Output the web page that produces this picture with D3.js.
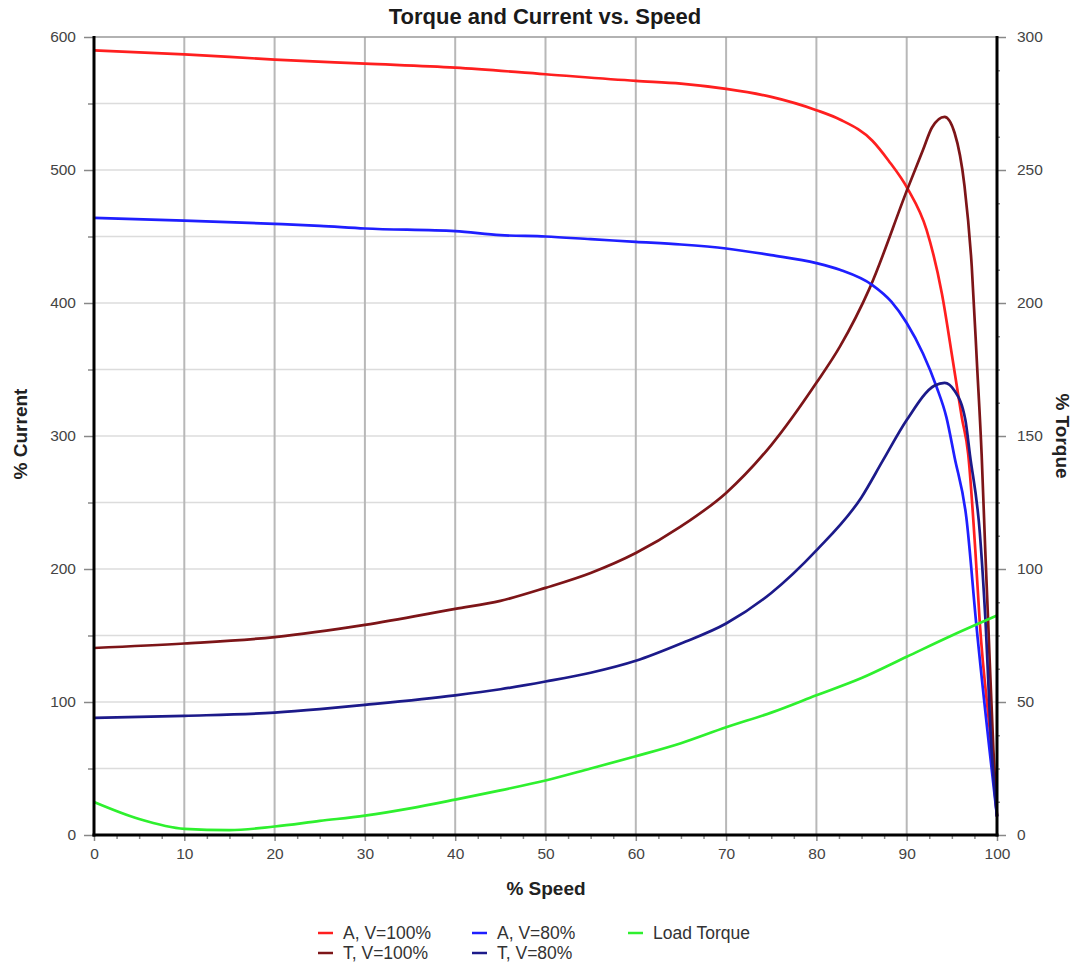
<!DOCTYPE html>
<html>
<head>
<meta charset="utf-8">
<script src="https://cdn.jsdelivr.net/npm/d3@7/dist/d3.min.js"></script>
<style>
  body { margin: 0; background: #fff; }
  svg { font-family: "Liberation Sans", Arial, sans-serif; }
  .tick-label { fill: #444; font-size: 15.5px; }
  .axis-title { font-weight: bold; font-size: 19px; fill: #222; }
  .legend-label { fill: #333; font-size: 17.5px; }
</style>
</head>
<body>
<div id="chart"></div>
<script>

// Current at 100% voltage (left axis, % current)
var ampsFullSpeed = [0, 10, 20, 30, 40, 50, 60, 65, 70, 75, 80, 82.6, 86.2, 88, 90.1, 92.2, 93.9, 95.1, 96.1, 96.8, 97.6, 98.1, 99.4, 100];
var ampsFull      = [590, 587, 583, 580, 577, 572, 567, 565, 561, 555, 545, 538, 522, 507, 486, 455, 407, 357, 314, 287, 214, 159, 64, 14];

// Current at 80% voltage
var ampsLowSpeed = [0, 10, 20, 25, 30, 40, 45, 50, 55, 60, 65, 70, 75, 80, 82.6, 86.2, 88.3, 90, 91.8, 93.3, 94.4, 95.3, 96.6, 97.7, 100];
var ampsLow      = [464, 462, 459.5, 458, 456, 454, 451, 450, 448, 446, 444, 441, 436, 430, 425, 413.5, 401, 385, 362, 337, 314, 284, 239, 159, 14];

// Torque at 100% voltage (right axis, % torque)
var torqueFullSpeed = [0, 10, 20, 30, 40, 45, 50, 55, 60, 65, 70, 75, 80, 82.6, 85.9, 90.1, 91.8, 92.8, 94.2, 95.3, 96.4, 97.2, 97.8, 98.3, 98.7, 99, 99.6, 100];
var torqueFull      = [70.3, 72, 74.4, 79, 85, 88, 92.9, 98.5, 106, 116, 128.6, 146.6, 170, 183.6, 205.6, 243, 257.5, 266, 270, 264, 244, 214, 176, 143, 107, 82, 32, 7];

// Torque at 80% voltage
var torqueLowSpeed = [0, 10, 20, 25, 30, 40, 45, 50, 55, 60, 65, 70, 75, 80, 85, 87.4, 90, 93.1, 94.2, 95.3, 96.5, 97, 98.1, 98.7, 99.4, 100];
var torqueLow      = [44, 44.8, 46, 47.3, 48.9, 52.5, 54.8, 57.7, 61, 65.5, 72, 79.5, 91, 107, 127, 141, 156, 169, 170, 167, 156, 143, 113.5, 82, 32, 7];

// Load torque
var loadSpeed  = [0, 5, 10, 15, 20, 25, 30, 35, 40, 45, 50, 55, 60, 65, 70, 75, 80, 85, 90, 95, 100];
var loadTorque = [12.4, 6, 2.3, 1.8, 3.2, 5.3, 7.3, 10, 13.3, 16.8, 20.5, 25, 29.6, 34.5, 40.5, 46, 52.5, 59, 67, 75, 82.5];

var speedTicks   = [0, 10, 20, 30, 40, 50, 60, 70, 80, 90, 100];
var currentTicks = [0, 100, 200, 300, 400, 500, 600];
var torqueTicks  = [0, 50, 100, 150, 200, 250, 300];

var series = [
  { name: 'A, V=100%',  axis: 'current', speed: ampsFullSpeed,   values: ampsFull,   color: '#ff1f1f' },
  { name: 'T, V=100%',  axis: 'torque',  speed: torqueFullSpeed, values: torqueFull, color: '#7d1518' },
  { name: 'A, V=80%',   axis: 'current', speed: ampsLowSpeed,    values: ampsLow,    color: '#1f1fff' },
  { name: 'T, V=80%',   axis: 'torque',  speed: torqueLowSpeed,  values: torqueLow,  color: '#1c1a8a' },
  { name: 'Load Torque', axis: 'torque', speed: loadSpeed,       values: loadTorque, color: '#2ef02e' }
];

(function(){

  var width = 1078, height = 965;
  var plotLeft = 94, plotRight = 997, plotTop = 37, plotBottom = 835;

  var svg = d3.select('#chart')
    .append('svg')
      .attr('width', width)
      .attr('height', height);

  var x = d3.scaleLinear().domain([0, 100]).range([plotLeft, plotRight]);
  var yCurrent = d3.scaleLinear().domain([0, 600]).range([plotBottom, plotTop]);
  var yTorque = d3.scaleLinear().domain([0, 300]).range([plotBottom, plotTop]);

  // Horizontal grid (every 50 % current)
  svg.append('g')
    .selectAll('line')
    .data(d3.range(50, 600, 50))
    .enter()
      .append('line')
        .attr('x1', plotLeft).attr('x2', plotRight)
        .attr('y1', function(d){ return yCurrent(d); })
        .attr('y2', function(d){ return yCurrent(d); })
        .attr('stroke', '#dcdcdc')
        .attr('stroke-width', 1.5);

  // Vertical grid (every 10 % speed)
  svg.append('g')
    .selectAll('line')
    .data(speedTicks.slice(1, -1))
    .enter()
      .append('line')
        .attr('x1', function(d){ return x(d); })
        .attr('x2', function(d){ return x(d); })
        .attr('y1', plotTop).attr('y2', plotBottom)
        .attr('stroke', '#b8b8b8')
        .attr('stroke-width', 2);

  // Top border
  svg.append('line')
    .attr('x1', plotLeft).attr('x2', plotRight)
    .attr('y1', plotTop).attr('y2', plotTop)
    .attr('stroke', '#999')
    .attr('stroke-width', 1.5);

  // Curves
  var line = function(s){
    var yScale = s.axis === 'current' ? yCurrent : yTorque;
    return d3.line()
      .x(function(d){ return x(d[0]); })
      .y(function(d){ return yScale(d[1]); })
      .curve(d3.curveMonotoneX)(d3.zip(s.speed, s.values));
  };

  svg.append('g')
    .selectAll('path')
    .data(series)
    .enter()
      .append('path')
        .attr('d', line)
        .attr('fill', 'none')
        .attr('stroke', function(d){ return d.color; })
        .attr('stroke-width', 2.7)
        .attr('stroke-linejoin', 'round');

  // Axes
  var xAxis = svg.append('g')
    .attr('transform', 'translate(0,' + plotBottom + ')')
    .call(d3.axisBottom(x).tickValues(speedTicks).tickSize(6).tickPadding(7));

  var xMinor = svg.append('g')
    .attr('transform', 'translate(0,' + plotBottom + ')')
    .call(d3.axisBottom(x).tickValues(d3.range(2.5, 100, 2.5).filter(function(d){ return d % 10 !== 0; })).tickSize(4).tickFormat(''));

  var yLeft = svg.append('g')
    .attr('transform', 'translate(' + plotLeft + ',0)')
    .call(d3.axisLeft(yCurrent).tickValues(currentTicks).tickSize(10).tickPadding(8));

  var yLeftMinor = svg.append('g')
    .attr('transform', 'translate(' + plotLeft + ',0)')
    .call(d3.axisLeft(yCurrent).tickValues(d3.range(50, 600, 100)).tickSize(6).tickFormat(''));

  var yRight = svg.append('g')
    .attr('transform', 'translate(' + plotRight + ',0)')
    .call(d3.axisRight(yTorque).tickValues(torqueTicks).tickSize(9).tickPadding(11));

  var yRightMinor = svg.append('g')
    .attr('transform', 'translate(' + plotRight + ',0)')
    .call(d3.axisRight(yTorque).tickValues(d3.range(12.5, 300, 12.5).filter(function(d){ return d % 50 !== 0; })).tickSize(3).tickFormat(''));

  [xAxis, xMinor, yLeft, yLeftMinor, yRight, yRightMinor].forEach(function(g){
    g.select('.domain').remove();
    g.selectAll('.tick line').attr('stroke', '#888').attr('stroke-width', 1.5);
    g.selectAll('.tick text').attr('class', 'tick-label').attr('font-size', null).attr('font-family', null).attr('fill', null);
  });

  // Heavy black axis lines
  svg.append('line')
    .attr('x1', plotLeft).attr('x2', plotLeft).attr('y1', plotTop - 1).attr('y2', plotBottom + 1.5)
    .attr('stroke', '#000').attr('stroke-width', 3);
  svg.append('line')
    .attr('x1', plotRight).attr('x2', plotRight).attr('y1', plotTop - 1).attr('y2', plotBottom + 1.5)
    .attr('stroke', '#000').attr('stroke-width', 3);
  svg.append('line')
    .attr('x1', plotLeft - 1.5).attr('x2', plotRight + 1.5).attr('y1', plotBottom).attr('y2', plotBottom)
    .attr('stroke', '#000').attr('stroke-width', 3);

  // Titles
  svg.append('text')
    .attr('x', 545).attr('y', 24)
    .attr('text-anchor', 'middle')
    .attr('font-weight', 'bold')
    .attr('font-size', 22)
    .attr('fill', '#1a1a1a')
    .text('Torque and Current vs. Speed');

  svg.append('text')
    .attr('class', 'axis-title')
    .attr('x', 546).attr('y', 895)
    .attr('text-anchor', 'middle')
    .text('% Speed');

  svg.append('text')
    .attr('class', 'axis-title')
    .attr('transform', 'translate(27,434) rotate(-90)')
    .attr('text-anchor', 'middle')
    .text('% Current');

  svg.append('text')
    .attr('class', 'axis-title')
    .attr('transform', 'translate(1056,436) rotate(90)')
    .attr('text-anchor', 'middle')
    .text('% Torque');

  // Legend
  var legendItems = [
    { s: series[0], x: 318, y: 933 },
    { s: series[2], x: 472, y: 933 },
    { s: series[4], x: 628, y: 933 },
    { s: series[1], x: 318, y: 953 },
    { s: series[3], x: 472, y: 953 }
  ];

  var legend = svg.append('g')
    .selectAll('g')
    .data(legendItems)
    .enter()
      .append('g')
        .attr('transform', function(d){ return 'translate(' + d.x + ',' + d.y + ')'; });

  legend.append('line')
    .attr('x1', 0).attr('x2', 15)
    .attr('stroke', function(d){ return d.s.color; })
    .attr('stroke-width', 2.5);

  legend.append('text')
    .attr('class', 'legend-label')
    .attr('x', 25)
    .attr('dy', '0.35em')
    .text(function(d){ return d.s.name; });

})();

</script>
</body>
</html>
